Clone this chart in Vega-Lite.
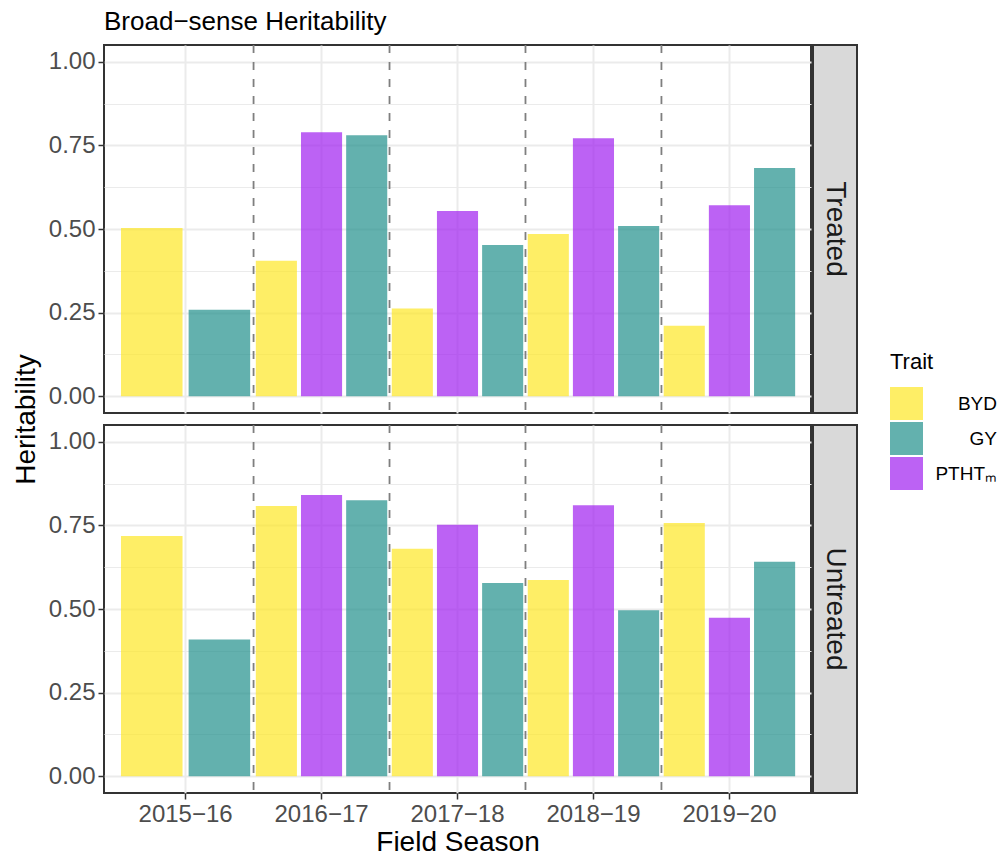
{
  "$schema": "https://vega.github.io/schema/vega-lite/v6.json",
  "padding": {"left": 11, "top": 9, "right": 0, "bottom": 0},
  "background": "white",
  "title": {"text": "Broad−sense Heritability", "anchor": "start", "frame": "group", "fontSize": 26, "fontWeight": "normal", "color": "black", "baseline": "alphabetic", "offset": -13},
  "datasets": {
    "h": [
      {"Season": "2015−16", "Treatment": "Treated", "Trait": "BYD", "H": 0.503},
      {"Season": "2015−16", "Treatment": "Treated", "Trait": "GY", "H": 0.259},
      {"Season": "2016−17", "Treatment": "Treated", "Trait": "BYD", "H": 0.405},
      {"Season": "2016−17", "Treatment": "Treated", "Trait": "PTHTₘ", "H": 0.789},
      {"Season": "2016−17", "Treatment": "Treated", "Trait": "GY", "H": 0.78},
      {"Season": "2017−18", "Treatment": "Treated", "Trait": "BYD", "H": 0.262},
      {"Season": "2017−18", "Treatment": "Treated", "Trait": "PTHTₘ", "H": 0.554},
      {"Season": "2017−18", "Treatment": "Treated", "Trait": "GY", "H": 0.452},
      {"Season": "2018−19", "Treatment": "Treated", "Trait": "BYD", "H": 0.485},
      {"Season": "2018−19", "Treatment": "Treated", "Trait": "PTHTₘ", "H": 0.771},
      {"Season": "2018−19", "Treatment": "Treated", "Trait": "GY", "H": 0.509},
      {"Season": "2019−20", "Treatment": "Treated", "Trait": "BYD", "H": 0.211},
      {"Season": "2019−20", "Treatment": "Treated", "Trait": "PTHTₘ", "H": 0.571},
      {"Season": "2019−20", "Treatment": "Treated", "Trait": "GY", "H": 0.682},
      {"Season": "2015−16", "Treatment": "Untreated", "Trait": "BYD", "H": 0.718},
      {"Season": "2015−16", "Treatment": "Untreated", "Trait": "GY", "H": 0.409},
      {"Season": "2016−17", "Treatment": "Untreated", "Trait": "BYD", "H": 0.808},
      {"Season": "2016−17", "Treatment": "Untreated", "Trait": "PTHTₘ", "H": 0.841},
      {"Season": "2016−17", "Treatment": "Untreated", "Trait": "GY", "H": 0.825},
      {"Season": "2017−18", "Treatment": "Untreated", "Trait": "BYD", "H": 0.68},
      {"Season": "2017−18", "Treatment": "Untreated", "Trait": "PTHTₘ", "H": 0.752},
      {"Season": "2017−18", "Treatment": "Untreated", "Trait": "GY", "H": 0.578},
      {"Season": "2018−19", "Treatment": "Untreated", "Trait": "BYD", "H": 0.587},
      {"Season": "2018−19", "Treatment": "Untreated", "Trait": "PTHTₘ", "H": 0.81},
      {"Season": "2018−19", "Treatment": "Untreated", "Trait": "GY", "H": 0.496},
      {"Season": "2019−20", "Treatment": "Untreated", "Trait": "BYD", "H": 0.757},
      {"Season": "2019−20", "Treatment": "Untreated", "Trait": "PTHTₘ", "H": 0.474},
      {"Season": "2019−20", "Treatment": "Untreated", "Trait": "GY", "H": 0.641}
    ]
  },
  "spacing": 0,
  "hconcat": [
    {
      "spacing": 12,
      "bounds": "flush",
      "vconcat": [
        {
          "width": 707,
          "height": 368,
          "data": {"name": "h"},
          "transform": [{"filter": "datum.Treatment == 'Treated'"}],
          "view": {"stroke": "#333333", "strokeWidth": 2, "fill": "white"},
          "encoding": {
            "x": {"field": "Season", "type": "nominal",
              "scale": {"domain": ["2015−16", "2016−17", "2017−18", "2018−19", "2019−20"], "paddingInner": 0, "paddingOuter": 0.1},
              "axis": {"labels": false, "ticks": false, "domain": false, "title": null, "grid": true, "bandPosition": 0.5, "gridColor": "#ebebeb", "gridWidth": 2}}
          },
          "layer": [
            {
              "transform": [{"filter": "datum.Season == '2015−16'"}],
              "mark": {"type": "bar", "opacity": 0.7},
              "encoding": {
                "xOffset": {"field": "Trait", "type": "nominal", "scale": {"domain": ["BYD", "GY"], "paddingInner": 0.09, "paddingOuter": 0.05}},
                "y": {"field": "H", "type": "quantitative", "scale": {"domain": [-0.05, 1.05], "nice": false},
                  "axis": {"values": [0, 0.125, 0.25, 0.375, 0.5, 0.625, 0.75, 0.875, 1],
                    "labelExpr": "datum.value * 4 == round(datum.value * 4) ? format(datum.value, '.2f') : ''",
                    "title": "Heritability", "titleY": 374, "titleFontSize": 28, "titlePadding": 8, "titleColor": "black", "titleFontWeight": "normal",
                    "domain": false, "labelOverlap": false,
                    "tickColor": {"condition": {"test": "datum.value * 4 == round(datum.value * 4)", "value": "#333333"}, "value": "transparent"},
                    "gridWidth": {"condition": {"test": "datum.value * 4 == round(datum.value * 4)", "value": 2}, "value": 1},
                    "gridColor": "#ebebeb", "tickSize": 6, "tickWidth": 1.5, "labelPadding": 3, "labelFontSize": 24, "labelColor": "#4d4d4d"}},
                "color": {"field": "Trait", "type": "nominal",
                  "scale": {"domain": ["BYD", "GY", "PTHTₘ"], "range": ["#FDE725", "#21908C", "#A020F0"]},
                  "legend": {"orient": "none", "legendX": 786, "legendY": 307, "title": "Trait", "titleFontSize": 22, "titleFontWeight": "normal", "titleColor": "black", "titlePadding": 13,
                    "labelFontSize": 19, "labelColor": "black", "symbolType": "square", "symbolSize": 1089, "symbolStrokeWidth": 0, "symbolOpacity": 0.7, "rowPadding": 2, "labelAlign": "right", "labelOffset": 74, "padding": 0}}
              }
            },
            {
              "transform": [{"filter": "datum.Season != '2015−16'"}],
              "mark": {"type": "bar", "opacity": 0.7},
              "encoding": {
                "xOffset": {"field": "Trait", "type": "nominal", "scale": {"domain": ["BYD", "PTHTₘ", "GY"], "paddingInner": 0.09, "paddingOuter": 0.05}},
                "y": {"field": "H", "type": "quantitative"},
                "color": {"field": "Trait", "type": "nominal"}
              }
            },
            {
              "transform": [{"filter": "datum.Trait == 'BYD' && datum.Season != '2015−16'"}],
              "mark": {"type": "rule", "strokeDash": [8, 9], "color": "#7f7f7f", "strokeWidth": 1.8},
              "encoding": {"x": {"field": "Season", "type": "nominal", "bandPosition": 0}}
            }
          ],
          "resolve": {"scale": {"xOffset": "independent"}}
        },
        {
          "width": 707,
          "height": 368,
          "data": {"name": "h"},
          "transform": [{"filter": "datum.Treatment == 'Untreated'"}],
          "view": {"stroke": "#333333", "strokeWidth": 2, "fill": "white"},
          "encoding": {
            "x": {"field": "Season", "type": "nominal",
              "scale": {"domain": ["2015−16", "2016−17", "2017−18", "2018−19", "2019−20"], "paddingInner": 0, "paddingOuter": 0.1},
              "axis": {"labelAngle": 0, "domain": false, "title": "Field Season", "titleFontSize": 28, "titleFontWeight": "normal", "titleColor": "black", "titlePadding": 2,
                "grid": true, "bandPosition": 0.5, "gridColor": "#ebebeb", "gridWidth": 2,
                "tickColor": "#333333", "tickSize": 6, "tickWidth": 1.5, "labelPadding": 3, "labelFontSize": 24, "labelColor": "#4d4d4d"}}
          },
          "layer": [
            {
              "transform": [{"filter": "datum.Season == '2015−16'"}],
              "mark": {"type": "bar", "opacity": 0.7},
              "encoding": {
                "xOffset": {"field": "Trait", "type": "nominal", "scale": {"domain": ["BYD", "GY"], "paddingInner": 0.09, "paddingOuter": 0.05}},
                "y": {"field": "H", "type": "quantitative", "scale": {"domain": [-0.05, 1.05], "nice": false},
                  "axis": {"values": [0, 0.125, 0.25, 0.375, 0.5, 0.625, 0.75, 0.875, 1],
                    "labelExpr": "datum.value * 4 == round(datum.value * 4) ? format(datum.value, '.2f') : ''",
                    "title": null, "domain": false, "labelOverlap": false,
                    "tickColor": {"condition": {"test": "datum.value * 4 == round(datum.value * 4)", "value": "#333333"}, "value": "transparent"},
                    "gridWidth": {"condition": {"test": "datum.value * 4 == round(datum.value * 4)", "value": 2}, "value": 1},
                    "gridColor": "#ebebeb", "tickSize": 6, "tickWidth": 1.5, "labelPadding": 3, "labelFontSize": 24, "labelColor": "#4d4d4d"}},
                "color": {"field": "Trait", "type": "nominal"}
              }
            },
            {
              "transform": [{"filter": "datum.Season != '2015−16'"}],
              "mark": {"type": "bar", "opacity": 0.7},
              "encoding": {
                "xOffset": {"field": "Trait", "type": "nominal", "scale": {"domain": ["BYD", "PTHTₘ", "GY"], "paddingInner": 0.09, "paddingOuter": 0.05}},
                "y": {"field": "H", "type": "quantitative"},
                "color": {"field": "Trait", "type": "nominal"}
              }
            },
            {
              "transform": [{"filter": "datum.Trait == 'BYD' && datum.Season != '2015−16'"}],
              "mark": {"type": "rule", "strokeDash": [8, 9], "color": "#7f7f7f", "strokeWidth": 1.8},
              "encoding": {"x": {"field": "Season", "type": "nominal", "bandPosition": 0}}
            }
          ],
          "resolve": {"scale": {"xOffset": "independent"}}
        }
      ]
    },
    {
      "spacing": 12,
      "bounds": "flush",
      "vconcat": [
        {
          "width": 44,
          "height": 368,
          "data": {"name": "h"},
          "transform": [{"filter": "datum.Treatment == 'Treated'"}, {"aggregate": [{"op": "count", "as": "n"}], "groupby": ["Treatment"]}],
          "view": {"fill": "#d9d9d9", "stroke": "#333333", "strokeWidth": 2},
          "mark": {"type": "text", "angle": 90, "fontSize": 28, "color": "#1a1a1a", "align": "center", "baseline": "middle"},
          "encoding": {"text": {"field": "Treatment", "type": "nominal"}}
        },
        {
          "width": 44,
          "height": 368,
          "data": {"name": "h"},
          "transform": [{"filter": "datum.Treatment == 'Untreated'"}, {"aggregate": [{"op": "count", "as": "n"}], "groupby": ["Treatment"]}],
          "view": {"fill": "#d9d9d9", "stroke": "#333333", "strokeWidth": 2},
          "mark": {"type": "text", "angle": 90, "fontSize": 28, "color": "#1a1a1a", "align": "center", "baseline": "middle"},
          "encoding": {"text": {"field": "Treatment", "type": "nominal"}}
        }
      ]
    }
  ],
  "config": {
    "font": "Liberation Sans"
  }
}
